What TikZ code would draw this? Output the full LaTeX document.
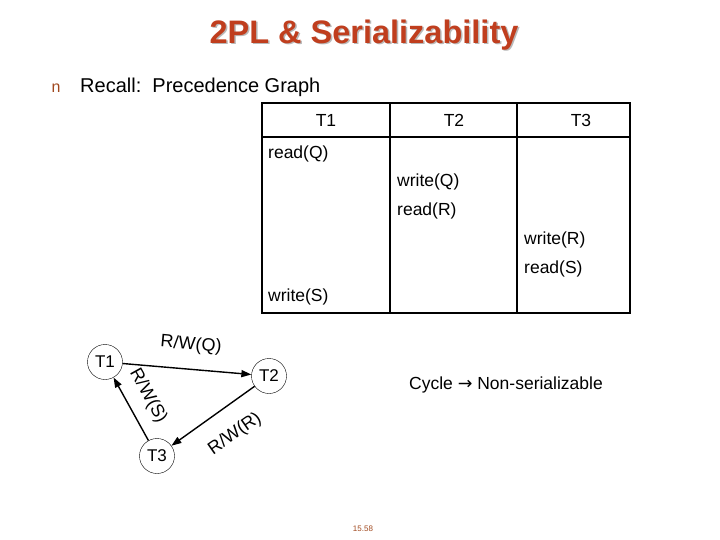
\documentclass[tikz,border=0pt]{standalone}
\usepackage{fontspec}
\setmainfont{Liberation Sans}
\newfontfamily\symfont{DejaVu Sans}
\usetikzlibrary{positioning, arrows.meta}
\definecolor{titlered}{RGB}{192,62,30}
\definecolor{bulletbrown}{RGB}{160,72,30}
\begin{document}
\begin{tikzpicture}[x=1pt, y=-1pt,
        txn/.style={draw, circle, thin, minimum size=35pt, inner sep=0pt, fill=white, font=\fontsize{17}{19}\selectfont},
        arrow/.style={-{Triangle[length=10pt, width=7pt]}, line width=1.4pt},
        cell/.style={anchor=west, inner sep=0pt, font=\fontsize{17.5}{19}\selectfont},
        head/.style={inner sep=0pt, font=\fontsize{17.5}{19}\selectfont},
        edgelabel/.style={inner sep=0pt, font=\fontsize{18}{20}\selectfont}
    ]
    \useasboundingbox (0,0) rectangle (720,540);

    % title with its shadow
    \node[gray!55, font=\bfseries\fontsize{32.5}{36}\selectfont] at (365.5,36.5) {2PL \& Serializability};
    \node[titlered, font=\bfseries\fontsize{32.5}{36}\selectfont] (title) at (364,35) {2PL \& Serializability};
    \node[bulletbrown, font=\fontsize{16}{18}\selectfont] (bullet) at (56,88) {n};
    \node[anchor=west, inner sep=0pt, font=\fontsize{20}{22}\selectfont] (recall) at (80,87) {Recall:\ \ Precedence Graph};

    % schedule table
    \draw[line width=1.8pt] (262,103) rectangle (630,313);
    \draw[line width=1.8pt] (262,137) -- (630,137);
    \draw[line width=1.8pt] (390,103) -- (390,313);
    \draw[line width=1.8pt] (517,103) -- (517,313);
    \node[head] (h1) at (326,120) {T1};
    \node[head] (h2) at (454,120) {T2};
    \node[head] (h3) at (581,120) {T3};
    \node[cell] (op1) at (268,154) {read(Q)};
    \node[cell] (op2) at (397,182) {write(Q)};
    \node[cell] (op3) at (397,211) {read(R)};
    \node[cell] (op4) at (524,240) {write(R)};
    \node[cell] (op5) at (524,269) {read(S)};
    \node[cell] (op6) at (268,297) {write(S)};

    % precedence graph
    \node[txn] (t1) at (105,362) {T1};
    \node[txn] (t2) at (269,376) {T2};
    \node[txn] (t3) at (157,456) {T3};
    \draw[arrow] (t1) -- (t2);
    \draw[arrow] (t2) -- (t3);
    \draw[arrow] (t3) -- (t1);
    \node[edgelabel, rotate=-5] (lq) at (191,345) {R/W(Q)};
    \node[edgelabel, rotate=-61] (ls) at (148,396) {R/W(S)};
    \node[edgelabel, rotate=35] (lr) at (235,434) {R/W(R)};

    \node[anchor=west, inner sep=0pt, font=\fontsize{17.5}{19}\selectfont] (cycle) at (409,385) {Cycle {\symfont →} Non-serializable};
    \node[bulletbrown, font=\fontsize{8}{9}\selectfont] (page) at (363,529) {15.58};
\end{tikzpicture}
\end{document}
